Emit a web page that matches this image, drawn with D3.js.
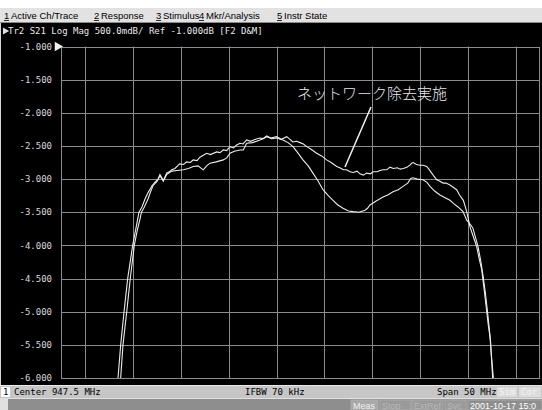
<!DOCTYPE html>
<html>
<head>
<meta charset="utf-8">
<script src="https://cdn.jsdelivr.net/npm/d3@7"></script>
<style>
  body { margin: 0; background: #fff; }
  svg { display: block; }
  .mono { font-family: "DejaVu Sans Mono", monospace; font-size: 9px; }
  .menu { font-family: "Liberation Sans", Arial, sans-serif; font-size: 9.5px; fill: #000; }
</style>
</head>
<body>
<div id="chart"></div>
<script>
// Réglages de l'analyseur
const centerMHz = 947.5;
const spanMHz = 50;
const refDb = -1.0;
const scaleDb = 0.5;
const yTicks = [-1.0, -1.5, -2.0, -2.5, -3.0, -3.5, -4.0, -4.5, -5.0, -5.5, -6.0];
const xGridMHz = [925, 930, 935, 940, 945, 950, 955, 960, 965, 970];

const menuItems = ["Active Ch/Trace", "Response", "Stimulus", "Mkr/Analysis", "Instr State"];
const titleText = "Tr2 S21 Log Mag 500.0mdB/ Ref -1.000dB [F2 D&M]";
const annotationText = "ネットワーク除去実施";

// Trace A : réseau retiré (courbe plate au milieu)
const freqA = [928.3, 928.45, 928.73, 929.08, 929.46, 929.98, 930.35, 930.64, 930.95, 931.27,
  931.6, 932.0, 932.3, 932.63, 932.83, 933.18, 933.53, 933.8, 934.06, 934.4,
  934.74, 934.9, 935.3, 935.6, 936.0, 936.3, 936.7, 937.0, 937.35, 937.7,
  938.1, 938.75, 939.1, 939.44, 939.8, 940.14, 940.5, 940.8, 941.18, 941.5,
  941.88, 942.3, 942.8, 943.27, 943.6, 943.97, 944.4, 945.0, 945.5, 946.06,
  946.4, 946.7, 947.1, 947.45, 947.8, 948.15, 948.6, 949.19, 949.7, 950.23,
  950.7, 951.28, 951.6, 951.97, 952.3, 952.67, 953.0, 953.4, 953.7, 954.06,
  954.4, 954.8, 955.1, 955.5, 955.8, 956.14, 956.5, 956.84, 957.2, 957.6,
  957.9, 958.23, 958.6, 958.93, 959.1, 959.27, 959.6, 959.97, 960.3, 960.67,
  960.9, 961.2, 961.45, 961.72, 962.0, 962.41, 962.7, 963.1, 963.4, 963.8,
  964.1, 964.5, 964.85, 965.19, 965.5, 965.89, 966.15, 966.42, 966.7, 966.94,
  967.1, 967.28, 967.45, 967.63, 967.75];
const magA = [-6.3, -6.0, -5.5, -5.0, -4.5, -4.0, -3.72, -3.5, -3.42, -3.3,
  -3.2, -3.1, -3.05, -3.0, -2.93, -3.02, -2.91, -2.89, -2.86, -2.84,
  -2.79, -2.77, -2.78, -2.74, -2.75, -2.71, -2.72, -2.67, -2.64, -2.61,
  -2.63, -2.59, -2.6, -2.56, -2.57, -2.51, -2.53, -2.49, -2.46, -2.47,
  -2.41, -2.43, -2.4, -2.38, -2.39, -2.35, -2.38, -2.36, -2.4, -2.36,
  -2.4, -2.44, -2.43, -2.45, -2.47, -2.51, -2.55, -2.61, -2.65, -2.71,
  -2.75, -2.81, -2.83, -2.86, -2.86, -2.89, -2.9, -2.88, -2.92, -2.94,
  -2.91, -2.92, -2.89, -2.89, -2.87, -2.86, -2.86, -2.82, -2.84, -2.83,
  -2.85, -2.84, -2.82, -2.79, -2.76, -2.75, -2.78, -2.79, -2.79, -2.81,
  -2.85, -2.91, -2.96, -3.01, -3.03, -3.06, -3.06, -3.09, -3.12, -3.16,
  -3.24, -3.32, -3.49, -3.72, -3.85, -4.02, -4.2, -4.37, -4.7, -5.0,
  -5.2, -5.38, -5.7, -6.0, -6.2];

// Trace B : mesure brute (creux vers -3.5 dB)
const freqB = [928.6, 928.73, 928.97, 929.36, 929.73, 930.15, 930.45, 930.75, 930.9, 931.2,
  931.58, 931.85, 932.1, 932.5, 932.83, 933.18, 933.53, 934.06, 934.6, 935.27,
  935.8, 936.31, 936.8, 937.35, 937.7, 938.05, 938.7, 939.44, 939.8, 940.14,
  940.6, 941.18, 941.53, 941.88, 942.5, 943.27, 943.6, 943.97, 944.5, 945.0,
  945.67, 946.2, 946.72, 947.2, 947.76, 948.3, 948.8, 949.3, 949.85, 950.4,
  950.89, 951.4, 951.94, 952.5, 952.98, 953.6, 954.23, 954.5, 954.75, 955.4,
  956.11, 956.6, 957.16, 957.7, 958.2, 958.7, 959.0, 959.24, 959.7, 960.29,
  960.7, 961.02, 961.5, 962.06, 962.6, 963.1, 963.5, 963.94, 964.46, 964.85,
  965.2, 965.5, 966.03, 966.3, 966.55, 966.8, 967.02, 967.2, 967.33, 967.56,
  967.7];
const magB = [-6.3, -6.0, -5.5, -5.0, -4.5, -4.0, -3.78, -3.6, -3.5, -3.42,
  -3.3, -3.19, -3.1, -3.04, -2.95, -3.03, -2.93, -2.88, -2.87, -2.86,
  -2.84, -2.81, -2.8, -2.86, -2.8, -2.76, -2.74, -2.71, -2.68, -2.61,
  -2.58, -2.56, -2.56, -2.46, -2.45, -2.41, -2.39, -2.36, -2.39, -2.38,
  -2.41, -2.45, -2.51, -2.6, -2.71, -2.8, -2.91, -3.02, -3.16, -3.25,
  -3.32, -3.39, -3.44, -3.48, -3.49, -3.5, -3.47, -3.44, -3.39, -3.33,
  -3.27, -3.24, -3.19, -3.16, -3.11, -3.06, -2.99, -2.98, -3.0, -3.01,
  -3.05, -3.11, -3.18, -3.24, -3.28, -3.32, -3.37, -3.42, -3.49, -3.62,
  -3.68, -3.74, -4.02, -4.22, -4.45, -4.72, -5.0, -5.25, -5.43, -6.0,
  -6.2];

class NetworkAnalyzerScreen {
  constructor() {
    this.W = 542;
    this.H = 410;
    this.plot = { left: 61, right: 540, top: 46.5, bottom: 378 };

    this.svg = d3.select("#chart").append("svg")
      .attr("width", this.W)
      .attr("height", this.H);

    this.setupScales();
    this.drawFrame();
    this.drawGrid();
    this.drawTraces();
    this.drawAnnotation();
    this.drawBars();
  }

  setupScales() {
    this.x = d3.scaleLinear()
      .domain([centerMHz - spanMHz / 2, centerMHz + spanMHz / 2])
      .range([this.plot.left, this.plot.right]);
    this.y = d3.scaleLinear()
      .domain([refDb - 10 * scaleDb, refDb])
      .range([this.plot.bottom, this.plot.top]);
  }

  drawFrame() {
    const s = this.svg;
    // barre de menu
    s.append("rect").attr("x", 0).attr("y", 0).attr("width", this.W).attr("height", 8).attr("fill", "#ffffff");
    s.append("rect").attr("x", 0).attr("y", 8).attr("width", this.W).attr("height", 14).attr("fill", "#e2e2e2");
    s.append("line").attr("x1", 0).attr("x2", this.W).attr("y1", 22.5).attr("y2", 22.5).attr("stroke", "#8a8a8a");

    // chiffre souligné + libellé, placés séparément
    const menuX = [4, 94, 156, 199, 277];
    menuItems.forEach((m, i) => {
      s.append("text").attr("class", "menu").attr("x", menuX[i]).attr("y", 18.5).text(i + 1);
      s.append("line").attr("x1", menuX[i]).attr("x2", menuX[i] + 5)
        .attr("y1", 20.5).attr("y2", 20.5).attr("stroke", "#000").attr("stroke-width", 0.8);
      s.append("text").attr("class", "menu").attr("x", menuX[i] + 7).attr("y", 18.5).text(m);
    });

    // écran noir
    s.append("rect").attr("x", 0).attr("y", 23).attr("width", this.W).attr("height", 362).attr("fill", "#d8d8d8");
    s.append("rect").attr("x", 1).attr("y", 23).attr("width", this.W - 1).attr("height", 362).attr("fill", "#000");

    s.append("path")
      .attr("d", d3.symbol(d3.symbolTriangle, 22)())
      .attr("transform", "translate(5,31) rotate(90)")
      .attr("fill", "#e0e0e0");
    s.append("text").attr("class", "mono").attr("x", 8).attr("y", 34)
      .attr("fill", "#e8e8e8").text(titleText);
  }

  drawGrid() {
    const g = this.svg.append("g");
    const p = this.plot;

    g.selectAll("line.vgrid").data(xGridMHz).enter().append("line")
      .attr("class", "vgrid")
      .attr("x1", (d) => Math.round(this.x(d)) + 0.5)
      .attr("x2", (d) => Math.round(this.x(d)) + 0.5)
      .attr("y1", p.top).attr("y2", p.bottom)
      .attr("stroke", "#8c8c8c");

    g.selectAll("line.hgrid").data(yTicks).enter().append("line")
      .attr("class", "hgrid")
      .attr("x1", p.left).attr("x2", p.right)
      .attr("y1", (d) => Math.round(this.y(d)) + 0.5)
      .attr("y2", (d) => Math.round(this.y(d)) + 0.5)
      .attr("stroke", "#8c8c8c");

    g.append("rect")
      .attr("x", p.left + 0.5).attr("y", Math.round(p.top) + 0.5)
      .attr("width", p.right - p.left - 1)
      .attr("height", Math.round(p.bottom) - Math.round(p.top))
      .attr("fill", "none").attr("stroke", "#8c8c8c");

    // étiquettes de l'axe Y
    const yAxis = d3.axisLeft(this.y).tickValues(yTicks).tickSize(0).tickPadding(0)
      .tickFormat(d3.format(".3f"));
    const ya = this.svg.append("g").attr("transform", "translate(52,0)").call(yAxis);
    ya.select(".domain").remove();
    ya.selectAll("text").attr("class", "mono").attr("fill", "#d8d8d8")
      .attr("font-family", "DejaVu Sans Mono").attr("font-size", 9)
      .attr("dy", "0.3em").text((d) => d3.format(".3f")(d).replace("−", "-"));

    // repère de référence
    this.svg.append("path")
      .attr("d", d3.symbol(d3.symbolTriangle, 40)())
      .attr("transform", `translate(57.5,${this.y(refDb)}) rotate(90)`)
      .attr("fill", "#f0f0f0");
  }

  drawTraces() {
    const p = this.plot;
    this.svg.append("clipPath").attr("id", "plotclip")
      .append("rect").attr("x", p.left).attr("y", p.top)
      .attr("width", p.right - p.left).attr("height", p.bottom - p.top);

    const line = d3.line().x((d) => this.x(d[0])).y((d) => this.y(d[1]));
    const tA = freqA.map((f, i) => [f, magA[i]]);
    const tB = freqB.map((f, i) => [f, magB[i]]);

    const g = this.svg.append("g").attr("clip-path", "url(#plotclip)");
    [tB, tA].forEach((t) => {
      g.append("path").datum(t).attr("d", line)
        .attr("fill", "none").attr("stroke", "#ececec").attr("stroke-width", 1.1);
    });
  }

  drawAnnotation() {
    this.svg.append("text")
      .attr("x", 297).attr("y", 99)
      .attr("font-family", "Noto Sans CJK JP").attr("font-size", 15)
      .attr("font-weight", 300)
      .attr("fill", "#e8e8e8").text(annotationText);
    this.svg.append("line")
      .attr("x1", 371).attr("y1", 107).attr("x2", 345).attr("y2", 167)
      .attr("stroke", "#f0f0f0").attr("stroke-width", 1.5);
  }

  drawBars() {
    const s = this.svg;
    // barre d'état
    s.append("rect").attr("x", 0).attr("y", 385).attr("width", this.W).attr("height", 13).attr("fill", "#c6c6c6");
    s.append("line").attr("x1", 0).attr("x2", this.W).attr("y1", 385.5).attr("y2", 385.5).attr("stroke", "#e8e8e8");
    s.append("rect").attr("x", 1).attr("y", 387).attr("width", 9).attr("height", 10).attr("fill", "#fff");
    s.append("text").attr("class", "mono").attr("x", 3).attr("y", 395).text("1");
    s.append("text").attr("class", "mono").attr("x", 14).attr("y", 395).text("Center " + centerMHz + " MHz");
    s.append("text").attr("class", "mono").attr("x", 245).attr("y", 395).text("IFBW 70 kHz");
    s.append("text").attr("class", "mono").attr("x", 437).attr("y", 395).text("Span " + spanMHz + " MHz");
    [["Sim", 497, 20], ["Cor", 519, 22]].forEach(([t, x, w]) => {
      s.append("rect").attr("x", x).attr("y", 387).attr("width", w).attr("height", 10).attr("fill", "#dcdcdc");
      s.append("text").attr("class", "mono").attr("x", x + 2).attr("y", 395).attr("fill", "#f4f4f4").text(t);
    });

    s.append("rect").attr("x", 0).attr("y", 398).attr("width", this.W).attr("height", 12).attr("fill", "#e0e0e0");
    s.append("rect").attr("x", 8).attr("y", 399).attr("width", this.W - 8).attr("height", 11).attr("fill", "#8e8e8e");
    const btns = [["Meas", 351, 27, "#a8a8a8", "#f0f0f0"], ["Stop", 380, 31, "#9a9a9a", "#b8b8b8"],
      ["ExtRef", 412, 31, "#9a9a9a", "#b8b8b8"], ["Svc", 445, 21, "#9a9a9a", "#b8b8b8"],
      ["2001-10-17 15:0", 468, 74, "#8e8e8e", "#ffffff"]];
    btns.forEach(([t, x, w, bg, fg]) => {
      s.append("rect").attr("x", x).attr("y", 400).attr("width", w).attr("height", 10)
        .attr("fill", bg).attr("stroke", "#b0b0b0").attr("stroke-width", 0.8);
      s.append("text").attr("x", x + 2).attr("y", 408.5)
        .attr("font-family", "Liberation Sans").attr("font-size", 9).attr("fill", fg).text(t);
    });
  }
}

new NetworkAnalyzerScreen();
</script>
</body>
</html>
